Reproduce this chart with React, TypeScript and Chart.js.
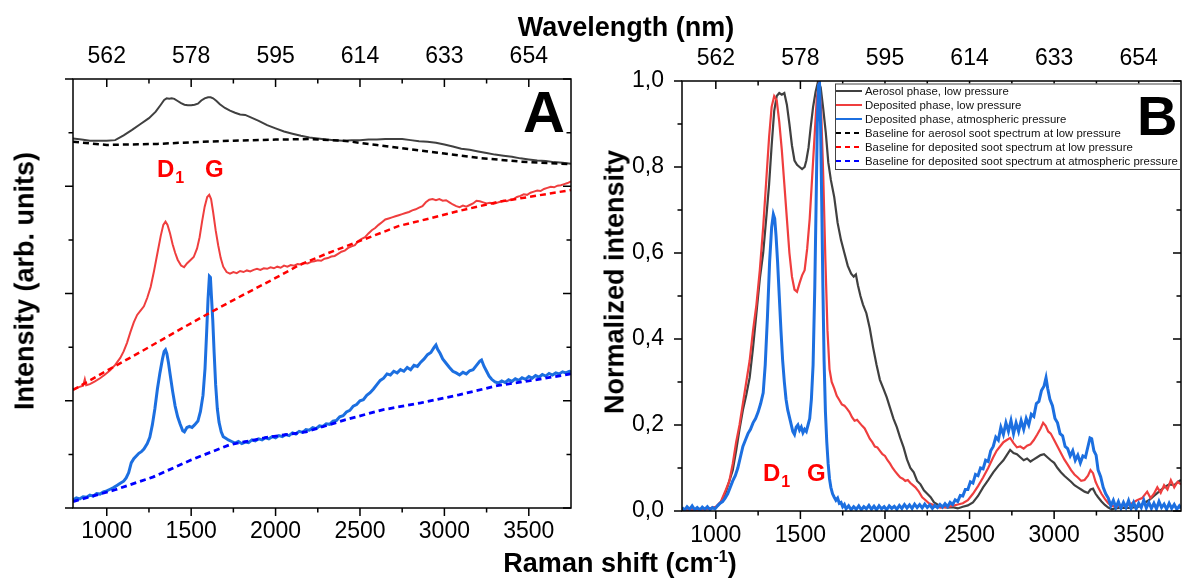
import React, { useEffect, useRef } from 'react';
import { Chart, registerables } from 'chart.js';

Chart.register(...registerables);

// ---------- axis data ----------
const X_MIN = 800;
const X_MAX = 3750;
const RAMAN_TICKS = [1000, 1500, 2000, 2500, 3000, 3500];
const RAMAN_MINOR_TICKS = [1250, 1750, 2250, 2750, 3250];
const WAVELENGTH_LABELS = ['562', '578', '595', '614', '633', '654'];
const A_Y_MAJOR = [0, 2, 4, 6, 8];
const A_Y_MINOR = [1, 3, 5, 7];
const B_Y_TICKS = [0, 0.2, 0.4, 0.6, 0.8, 1.0];
const B_Y_LABELS = ['0,0', '0,2', '0,4', '0,6', '0,8', '1,0'];
const B_Y_MINOR = [0.1, 0.3, 0.5, 0.7, 0.9];

const LEGEND_LABELS = [
  'Aerosol phase, low pressure',
  'Deposited phase, low pressure',
  'Deposited phase, atmospheric pressure',
  'Baseline for aerosol soot spectrum at low pressure',
  'Baseline for deposited soot spectrum at low pressure',
  'Baseline for deposited soot spectrum at atmospheric pressure',
];

// ---------- panel A (raw spectra, arbitrary units, offset) ----------
const A_AEROSOL_LOW: number[][] = [
  [800, 6.89], [850, 6.87], [900, 6.85], [950, 6.85], [1000, 6.85], [1050, 6.86], [1100, 6.95],
  [1150, 7.05], [1200, 7.16], [1250, 7.27], [1290, 7.39], [1320, 7.52], [1340, 7.61], [1355, 7.64],
  [1370, 7.63], [1385, 7.64], [1400, 7.63], [1420, 7.59], [1440, 7.55], [1460, 7.52], [1480, 7.51],
  [1500, 7.51], [1520, 7.52], [1540, 7.54], [1560, 7.6], [1580, 7.64], [1600, 7.66], [1615, 7.66],
  [1630, 7.64], [1650, 7.59], [1670, 7.53], [1700, 7.46], [1730, 7.41], [1760, 7.37], [1790, 7.34],
  [1820, 7.33], [1850, 7.29], [1900, 7.22], [1950, 7.14], [2000, 7.08], [2050, 7.02], [2100, 6.98],
  [2150, 6.94], [2200, 6.91], [2250, 6.89], [2300, 6.87], [2350, 6.86], [2400, 6.85], [2450, 6.86],
  [2500, 6.86], [2550, 6.87], [2600, 6.87], [2650, 6.88], [2700, 6.88], [2750, 6.88], [2800, 6.86],
  [2850, 6.84], [2900, 6.83], [2950, 6.81], [3000, 6.78], [3050, 6.74], [3100, 6.7], [3150, 6.68],
  [3200, 6.65], [3250, 6.62], [3300, 6.59], [3350, 6.57], [3400, 6.55], [3450, 6.52], [3500, 6.5],
  [3550, 6.48], [3600, 6.47], [3650, 6.45], [3700, 6.44], [3750, 6.42],
];
const A_AEROSOL_LOW_BASE: number[][] = [
  [800, 6.83], [1000, 6.77], [1300, 6.79], [1500, 6.82], [1750, 6.85], [2000, 6.87], [2200, 6.88],
  [2400, 6.85], [2600, 6.77], [2800, 6.69], [3000, 6.61], [3200, 6.53], [3450, 6.46], [3750, 6.41],
];
const A_DEPOSITED_LOW: number[][] = [
  [800, 2.21], [830, 2.25], [860, 2.28], [870, 2.4], [878, 2.29], [900, 2.31], [930, 2.36],
  [960, 2.42], [990, 2.49], [1020, 2.57], [1050, 2.67], [1080, 2.8], [1100, 2.92], [1120, 3.08],
  [1140, 3.28], [1160, 3.46], [1180, 3.6], [1200, 3.68], [1220, 3.76], [1240, 3.92], [1260, 4.12],
  [1280, 4.42], [1300, 4.75], [1320, 5.08], [1335, 5.28], [1348, 5.34], [1360, 5.28], [1375, 5.12],
  [1390, 4.92], [1405, 4.76], [1420, 4.63], [1440, 4.52], [1458, 4.49], [1475, 4.56], [1495, 4.62],
  [1515, 4.68], [1535, 4.84], [1550, 5.05], [1565, 5.35], [1580, 5.62], [1595, 5.8], [1607, 5.84],
  [1618, 5.76], [1630, 5.52], [1645, 5.18], [1660, 4.9], [1675, 4.66], [1690, 4.5], [1710, 4.4],
  [1730, 4.37], [1750, 4.4], [1770, 4.38], [1790, 4.42], [1810, 4.4], [1830, 4.43], [1850, 4.41],
  [1870, 4.44], [1890, 4.46], [1910, 4.44], [1930, 4.47], [1950, 4.46], [1970, 4.49], [1990, 4.47],
  [2010, 4.5], [2030, 4.48], [2050, 4.52], [2070, 4.5], [2090, 4.53], [2110, 4.52], [2130, 4.55],
  [2150, 4.54], [2170, 4.57], [2190, 4.56], [2210, 4.59], [2230, 4.6], [2250, 4.62], [2270, 4.61],
  [2290, 4.65], [2310, 4.66], [2330, 4.69], [2350, 4.7], [2370, 4.74], [2390, 4.78], [2410, 4.8],
  [2430, 4.85], [2450, 4.88], [2470, 4.9], [2490, 4.98], [2510, 5.02], [2530, 5.05], [2550, 5.12],
  [2570, 5.18], [2590, 5.22], [2610, 5.28], [2630, 5.33], [2650, 5.38], [2670, 5.4], [2690, 5.42],
  [2710, 5.44], [2730, 5.46], [2750, 5.48], [2770, 5.5], [2790, 5.52], [2810, 5.55], [2830, 5.57],
  [2850, 5.6], [2870, 5.63], [2890, 5.7], [2910, 5.75], [2930, 5.76], [2950, 5.74], [2970, 5.76],
  [2990, 5.73], [3010, 5.74], [3030, 5.7], [3050, 5.66], [3070, 5.63], [3090, 5.61], [3110, 5.64],
  [3130, 5.62], [3150, 5.65], [3170, 5.68], [3190, 5.73], [3210, 5.72], [3230, 5.7], [3250, 5.68],
  [3270, 5.69], [3290, 5.67], [3310, 5.69], [3330, 5.71], [3350, 5.73], [3370, 5.72], [3390, 5.75],
  [3410, 5.76], [3430, 5.8], [3450, 5.82], [3470, 5.85], [3490, 5.84], [3510, 5.88], [3530, 5.9],
  [3550, 5.92], [3570, 5.91], [3590, 5.95], [3610, 5.97], [3630, 5.99], [3650, 5.98], [3670, 6.01],
  [3690, 6.02], [3710, 6.04], [3730, 6.06], [3750, 6.09],
];
const A_DEPOSITED_LOW_BASE: number[][] = [
  [800, 2.2], [1000, 2.56], [1200, 2.91], [1400, 3.27], [1610, 3.64], [1800, 3.96], [2000, 4.29],
  [2140, 4.53], [2300, 4.74], [2500, 4.98], [2731, 5.26], [2900, 5.39], [3100, 5.55], [3322, 5.71],
  [3500, 5.8], [3750, 5.93],
];
const A_DEPOSITED_ATM: number[][] = [
  [800, 0.15], [820, 0.19], [840, 0.17], [860, 0.21], [880, 0.2], [900, 0.24], [920, 0.22],
  [940, 0.27], [960, 0.26], [980, 0.3], [1000, 0.32], [1020, 0.35], [1040, 0.38], [1060, 0.42],
  [1080, 0.46], [1100, 0.5], [1115, 0.56], [1130, 0.66], [1145, 0.84], [1160, 0.92], [1175, 0.97],
  [1190, 1.02], [1205, 1.05], [1220, 1.1], [1240, 1.2], [1255, 1.32], [1270, 1.55], [1285, 1.85],
  [1300, 2.22], [1315, 2.52], [1330, 2.78], [1340, 2.92], [1348, 2.95], [1356, 2.88], [1365, 2.72],
  [1375, 2.5], [1390, 2.18], [1405, 1.9], [1420, 1.7], [1435, 1.56], [1450, 1.44], [1460, 1.42],
  [1475, 1.5], [1490, 1.52], [1505, 1.5], [1520, 1.55], [1540, 1.62], [1555, 1.8], [1570, 2.1],
  [1582, 2.6], [1592, 3.3], [1600, 3.9], [1608, 4.32], [1614, 4.3], [1620, 3.95], [1628, 3.5],
  [1636, 2.9], [1645, 2.3], [1655, 1.85], [1665, 1.6], [1678, 1.42], [1690, 1.33], [1705, 1.3],
  [1720, 1.27], [1740, 1.24], [1760, 1.21], [1780, 1.24], [1800, 1.2], [1820, 1.23], [1840, 1.22],
  [1860, 1.27], [1880, 1.25], [1900, 1.29], [1920, 1.27], [1940, 1.31], [1960, 1.29], [1980, 1.33],
  [2000, 1.31], [2020, 1.35], [2040, 1.33], [2060, 1.37], [2080, 1.35], [2100, 1.4], [2120, 1.38],
  [2140, 1.43], [2160, 1.41], [2180, 1.46], [2200, 1.45], [2220, 1.5], [2240, 1.48], [2260, 1.53],
  [2280, 1.52], [2300, 1.57], [2320, 1.56], [2340, 1.62], [2360, 1.63], [2380, 1.7], [2400, 1.72],
  [2420, 1.79], [2440, 1.82], [2460, 1.9], [2480, 1.93], [2500, 2.0], [2520, 2.02], [2540, 2.1],
  [2560, 2.15], [2580, 2.22], [2600, 2.3], [2620, 2.38], [2640, 2.42], [2660, 2.5], [2680, 2.48],
  [2700, 2.55], [2720, 2.52], [2740, 2.58], [2760, 2.55], [2780, 2.62], [2800, 2.58], [2820, 2.66],
  [2840, 2.64], [2860, 2.72], [2880, 2.78], [2900, 2.86], [2920, 2.9], [2940, 3.0], [2950, 3.04],
  [2960, 2.96], [2975, 2.88], [2990, 2.78], [3010, 2.7], [3030, 2.62], [3050, 2.55], [3070, 2.52],
  [3090, 2.48], [3110, 2.53], [3130, 2.5], [3150, 2.56], [3170, 2.58], [3190, 2.66], [3210, 2.74],
  [3220, 2.76], [3235, 2.64], [3250, 2.55], [3265, 2.46], [3280, 2.4], [3300, 2.35], [3320, 2.33],
  [3340, 2.37], [3360, 2.34], [3380, 2.39], [3400, 2.36], [3420, 2.41], [3440, 2.38], [3460, 2.43],
  [3480, 2.4], [3500, 2.45], [3520, 2.42], [3540, 2.47], [3560, 2.44], [3580, 2.49], [3600, 2.46],
  [3620, 2.51], [3640, 2.48], [3660, 2.52], [3680, 2.5], [3700, 2.54], [3720, 2.52], [3740, 2.55],
  [3750, 2.54],
];
const A_DEPOSITED_ATM_BASE: number[][] = [
  [800, 0.12], [1050, 0.34], [1276, 0.58], [1502, 0.9], [1729, 1.18], [1955, 1.32], [2181, 1.42],
  [2407, 1.64], [2633, 1.83], [2860, 1.96], [3086, 2.11], [3312, 2.28], [3538, 2.39], [3750, 2.5],
];

// ---------- panel B (normalized, baseline-subtracted) ----------
const B_AEROSOL_LOW: number[][] = [
  [800, 0.004], [850, 0.002], [900, 0.005], [950, 0.004], [1000, 0.008], [1030, 0.02], [1060, 0.045],
  [1080, 0.07], [1100, 0.095], [1120, 0.14], [1140, 0.19], [1160, 0.235], [1180, 0.27], [1200, 0.31],
  [1220, 0.38], [1240, 0.46], [1260, 0.54], [1280, 0.6], [1300, 0.69], [1315, 0.76], [1330, 0.85],
  [1345, 0.93], [1360, 0.965], [1375, 0.972], [1390, 0.968], [1405, 0.972], [1420, 0.945], [1435, 0.9],
  [1450, 0.85], [1465, 0.815], [1480, 0.805], [1495, 0.8], [1510, 0.795], [1525, 0.8], [1535, 0.815],
  [1548, 0.845], [1560, 0.89], [1575, 0.94], [1590, 0.975], [1605, 1.0], [1620, 0.985], [1635, 0.935],
  [1650, 0.88], [1665, 0.81], [1680, 0.77], [1700, 0.73], [1720, 0.67], [1740, 0.63], [1760, 0.6],
  [1780, 0.57], [1800, 0.552], [1815, 0.545], [1828, 0.55], [1840, 0.525], [1855, 0.5], [1870, 0.48],
  [1890, 0.46], [1910, 0.425], [1930, 0.38], [1950, 0.34], [1970, 0.305], [1990, 0.285], [2010, 0.265],
  [2030, 0.24], [2050, 0.215], [2070, 0.195], [2090, 0.17], [2110, 0.148], [2130, 0.12], [2150, 0.1],
  [2170, 0.09], [2190, 0.07], [2210, 0.062], [2230, 0.048], [2250, 0.04], [2270, 0.032], [2290, 0.02],
  [2310, 0.015], [2340, 0.01], [2370, 0.008], [2400, 0.009], [2430, 0.006], [2460, 0.01], [2490, 0.013],
  [2520, 0.02], [2550, 0.035], [2580, 0.055], [2610, 0.072], [2640, 0.09], [2670, 0.105], [2700, 0.118],
  [2720, 0.13], [2740, 0.142], [2760, 0.135], [2780, 0.132], [2800, 0.125], [2820, 0.118], [2840, 0.122],
  [2860, 0.115], [2880, 0.12], [2900, 0.125], [2920, 0.13], [2940, 0.132], [2960, 0.125], [2980, 0.118],
  [3000, 0.112], [3020, 0.1], [3040, 0.09], [3060, 0.082], [3080, 0.075], [3100, 0.068], [3120, 0.06],
  [3140, 0.055], [3160, 0.05], [3180, 0.045], [3200, 0.042], [3215, 0.05], [3230, 0.052], [3245, 0.04],
  [3260, 0.032], [3280, 0.022], [3300, 0.014], [3320, 0.008], [3340, 0.004], [3360, 0.006], [3400, 0.008],
  [3450, 0.007], [3500, 0.01], [3530, 0.018], [3560, 0.025], [3590, 0.035], [3620, 0.045], [3650, 0.055],
  [3680, 0.062], [3710, 0.06], [3740, 0.07], [3750, 0.072],
];
const B_DEPOSITED_LOW: number[][] = [
  [800, 0.003], [850, 0.004], [900, 0.002], [950, 0.005], [1000, 0.01], [1030, 0.022], [1060, 0.05],
  [1080, 0.07], [1100, 0.11], [1120, 0.16], [1140, 0.2], [1160, 0.25], [1180, 0.3], [1200, 0.35],
  [1220, 0.42], [1240, 0.48], [1260, 0.56], [1280, 0.66], [1300, 0.78], [1315, 0.87], [1330, 0.94],
  [1345, 0.965], [1360, 0.955], [1375, 0.905], [1390, 0.84], [1405, 0.76], [1420, 0.68], [1435, 0.6],
  [1450, 0.545], [1465, 0.515], [1480, 0.51], [1495, 0.53], [1510, 0.548], [1525, 0.56], [1540, 0.61],
  [1555, 0.68], [1570, 0.78], [1585, 0.88], [1597, 0.96], [1610, 0.995], [1622, 0.94], [1635, 0.78],
  [1648, 0.58], [1660, 0.42], [1672, 0.33], [1685, 0.3], [1700, 0.285], [1715, 0.268], [1730, 0.258],
  [1745, 0.248], [1760, 0.245], [1775, 0.238], [1790, 0.23], [1805, 0.218], [1820, 0.21], [1835, 0.212],
  [1850, 0.205], [1865, 0.198], [1880, 0.192], [1895, 0.18], [1910, 0.168], [1925, 0.16], [1940, 0.15],
  [1955, 0.148], [1970, 0.14], [1985, 0.132], [2000, 0.128], [2015, 0.118], [2030, 0.11], [2045, 0.1],
  [2060, 0.092], [2075, 0.085], [2090, 0.078], [2105, 0.075], [2120, 0.07], [2135, 0.072], [2150, 0.065],
  [2165, 0.06], [2180, 0.055], [2200, 0.045], [2220, 0.032], [2240, 0.025], [2260, 0.018], [2280, 0.015],
  [2300, 0.01], [2330, 0.008], [2360, 0.009], [2400, 0.012], [2430, 0.015], [2460, 0.018], [2490, 0.025],
  [2520, 0.04], [2550, 0.058], [2580, 0.078], [2610, 0.1], [2640, 0.125], [2660, 0.14], [2680, 0.15],
  [2700, 0.16], [2720, 0.165], [2740, 0.17], [2760, 0.158], [2780, 0.148], [2800, 0.15], [2820, 0.145],
  [2840, 0.152], [2860, 0.155], [2880, 0.165], [2900, 0.178], [2920, 0.192], [2935, 0.205], [2950, 0.198],
  [2965, 0.185], [2980, 0.18], [3000, 0.165], [3020, 0.15], [3040, 0.135], [3060, 0.12], [3080, 0.108],
  [3100, 0.095], [3120, 0.085], [3140, 0.078], [3160, 0.07], [3180, 0.072], [3200, 0.082], [3215, 0.095],
  [3230, 0.088], [3245, 0.068], [3260, 0.055], [3280, 0.04], [3300, 0.028], [3320, 0.018], [3340, 0.012],
  [3370, 0.01], [3400, 0.014], [3430, 0.012], [3460, 0.018], [3490, 0.025], [3520, 0.03], [3550, 0.045],
  [3570, 0.03], [3590, 0.04], [3610, 0.055], [3630, 0.042], [3650, 0.06], [3670, 0.05], [3690, 0.072],
  [3710, 0.055], [3730, 0.068], [3750, 0.062],
];
const B_DEPOSITED_ATM: number[][] = [
  [800, 0.008], [815, 0.002], [830, 0.01], [845, 0.004], [860, 0.012], [875, 0.003], [890, 0.008],
  [905, 0.002], [920, 0.009], [935, 0.004], [950, 0.01], [965, 0.003], [980, 0.008], [995, 0.005],
  [1010, 0.012], [1025, 0.018], [1040, 0.022], [1055, 0.03], [1070, 0.04], [1085, 0.055], [1100, 0.07],
  [1115, 0.082], [1130, 0.1], [1145, 0.125], [1160, 0.15], [1175, 0.165], [1190, 0.18], [1205, 0.19],
  [1220, 0.205], [1235, 0.215], [1250, 0.23], [1265, 0.25], [1280, 0.275], [1292, 0.34], [1305, 0.45],
  [1318, 0.58], [1330, 0.66], [1340, 0.69], [1348, 0.68], [1356, 0.64], [1365, 0.58], [1375, 0.5],
  [1385, 0.42], [1395, 0.35], [1405, 0.3], [1415, 0.26], [1425, 0.235], [1440, 0.21], [1455, 0.185],
  [1465, 0.178], [1475, 0.195], [1485, 0.2], [1495, 0.188], [1505, 0.195], [1515, 0.182], [1525, 0.19],
  [1535, 0.185], [1545, 0.2], [1555, 0.215], [1565, 0.26], [1575, 0.34], [1585, 0.52], [1593, 0.72],
  [1600, 0.9], [1607, 0.99], [1613, 0.995], [1619, 0.9], [1626, 0.72], [1633, 0.52], [1640, 0.35],
  [1648, 0.23], [1656, 0.16], [1664, 0.11], [1672, 0.075], [1680, 0.055], [1690, 0.04], [1700, 0.032],
  [1710, 0.025], [1720, 0.03], [1730, 0.018], [1740, 0.02], [1750, 0.01], [1760, 0.015], [1770, 0.005],
  [1785, 0.012], [1800, 0.003], [1815, 0.01], [1830, 0.004], [1845, 0.012], [1860, 0.003], [1875, 0.01],
  [1890, 0.005], [1905, 0.013], [1920, 0.004], [1935, 0.011], [1950, 0.003], [1965, 0.012], [1980, 0.005],
  [1995, 0.01], [2010, 0.003], [2025, 0.012], [2040, 0.006], [2055, 0.011], [2070, 0.004], [2085, 0.013],
  [2100, 0.006], [2115, 0.015], [2130, 0.007], [2145, 0.014], [2160, 0.006], [2175, 0.016], [2190, 0.008],
  [2205, 0.015], [2220, 0.007], [2235, 0.016], [2250, 0.008], [2265, 0.014], [2280, 0.006], [2295, 0.013],
  [2310, 0.008], [2325, 0.015], [2340, 0.009], [2355, 0.017], [2370, 0.01], [2385, 0.02], [2400, 0.015],
  [2415, 0.026], [2430, 0.022], [2445, 0.036], [2460, 0.035], [2475, 0.05], [2490, 0.05], [2505, 0.068],
  [2520, 0.065], [2535, 0.085], [2550, 0.082], [2565, 0.1], [2580, 0.098], [2595, 0.118], [2610, 0.115],
  [2625, 0.14], [2640, 0.15], [2655, 0.172], [2670, 0.165], [2685, 0.195], [2700, 0.178], [2715, 0.205],
  [2730, 0.185], [2745, 0.21], [2760, 0.18], [2775, 0.205], [2790, 0.185], [2805, 0.21], [2820, 0.19],
  [2835, 0.215], [2850, 0.2], [2865, 0.225], [2880, 0.22], [2895, 0.25], [2910, 0.255], [2925, 0.28],
  [2940, 0.29], [2952, 0.31], [2962, 0.285], [2975, 0.26], [2990, 0.245], [3005, 0.215], [3020, 0.205],
  [3035, 0.18], [3050, 0.175], [3065, 0.15], [3080, 0.145], [3095, 0.128], [3110, 0.14], [3125, 0.118],
  [3140, 0.13], [3155, 0.112], [3170, 0.128], [3185, 0.125], [3200, 0.15], [3212, 0.17], [3222, 0.168],
  [3235, 0.14], [3248, 0.13], [3260, 0.095], [3275, 0.08], [3290, 0.055], [3305, 0.04], [3320, 0.03],
  [3335, 0.012], [3350, 0.025], [3365, 0.008], [3380, 0.022], [3395, 0.006], [3410, 0.02], [3425, 0.008],
  [3440, 0.024], [3455, 0.006], [3470, 0.02], [3485, 0.005], [3500, 0.018], [3515, 0.008], [3530, 0.025],
  [3545, 0.007], [3560, 0.02], [3575, 0.006], [3590, 0.018], [3605, 0.005], [3620, 0.022], [3635, 0.008],
  [3650, 0.016], [3665, 0.004], [3680, 0.018], [3695, 0.006], [3710, 0.015], [3725, 0.004], [3740, 0.012],
  [3750, 0.006],
];

// ---------- styles ----------
const FONT = "'Liberation Sans', Arial, Helvetica, sans-serif";
const C_BLACK = '#404040';
const C_RED = '#ef3e3e';
const C_BLUE = '#1c6fe0';
const C_BLACK_DASH = '#000000';
const C_RED_DASH = '#ff0000';
const C_BLUE_DASH = '#0000ff';
const LEGEND_STYLES = [
  { color: C_BLACK, dash: [] as number[] },
  { color: C_RED, dash: [] as number[] },
  { color: C_BLUE, dash: [] as number[] },
  { color: C_BLACK_DASH, dash: [5, 4] },
  { color: C_RED_DASH, dash: [5, 4] },
  { color: C_BLUE_DASH, dash: [5, 4] },
];

const pts = (arr: number[][]) => arr.map(([x, y]) => ({ x, y }));

function line(data: number[][], color: string, width: number, order: number, dash: number[] = []) {
  return {
    data: pts(data),
    borderColor: color,
    backgroundColor: color,
    borderWidth: width,
    borderDash: dash,
    pointRadius: 0,
    tension: 0,
    fill: false,
    order,
  };
}

function drawBandLabels(ctx: CanvasRenderingContext2D, xD: number, xG: number, base: number) {
  ctx.save();
  ctx.fillStyle = '#ff0000';
  ctx.textAlign = 'left';
  ctx.textBaseline = 'alphabetic';
  ctx.font = `bold 24px ${FONT}`;
  ctx.fillText('D', xD, base);
  const w = ctx.measureText('D').width;
  ctx.font = `bold 16px ${FONT}`;
  ctx.fillText('1', xD + w + 1, base + 6);
  ctx.font = `bold 24px ${FONT}`;
  ctx.fillText('G', xG, base);
  ctx.restore();
}

function framePlugin(id: string, yMajor: number[], yMinor: number[], extra: (ctx: CanvasRenderingContext2D, chart: any) => void) {
  return {
    id,
    afterDatasetsDraw(chart: any) {
      const { ctx, chartArea, scales } = chart;
      const { left, right, top, bottom } = chartArea;
      const xs = scales.x;
      const ys = scales.y;
      const MAJ = 8;
      const MIN = 4.5;
      ctx.save();
      ctx.strokeStyle = '#000';
      ctx.lineWidth = 1.5;
      ctx.setLineDash([]);
      ctx.beginPath();
      const xt = (v: number, len: number) => {
        const p = xs.getPixelForValue(v);
        ctx.moveTo(p, bottom);
        ctx.lineTo(p, bottom + len);
        ctx.moveTo(p, top);
        ctx.lineTo(p, top + len);
      };
      const yt = (v: number, len: number) => {
        const p = ys.getPixelForValue(v);
        ctx.moveTo(left - len, p);
        ctx.lineTo(left, p);
        ctx.moveTo(right, p);
        ctx.lineTo(right - len, p);
      };
      RAMAN_TICKS.forEach((v) => xt(v, MAJ));
      RAMAN_MINOR_TICKS.forEach((v) => xt(v, MIN));
      yMajor.forEach((v) => yt(v, MAJ));
      yMinor.forEach((v) => yt(v, MIN));
      ctx.stroke();
      ctx.strokeRect(left, top, right - left, bottom - top);
      ctx.restore();
      extra(ctx, chart);
    },
  };
}

function xScales(topHeight: number, bottomHeight: number, topPad: number, bottomPad: number) {
  const tickFont = { family: FONT, size: 23 };
  const setTicks = (s: any) => {
    s.ticks = RAMAN_TICKS.map((v) => ({ value: v }));
  };
  return {
    x: {
      type: 'linear',
      position: 'bottom',
      min: X_MIN,
      max: X_MAX,
      afterBuildTicks: setTicks,
      afterFit: (s: any) => {
        s.height = bottomHeight;
      },
      grid: { display: false, drawTicks: false },
      border: { display: false },
      ticks: {
        font: tickFont,
        color: '#000',
        padding: bottomPad,
        maxRotation: 0,
        autoSkip: false,
        callback: (v: any) => String(v),
      },
    },
    x2: {
      type: 'linear',
      position: 'top',
      min: X_MIN,
      max: X_MAX,
      afterBuildTicks: setTicks,
      afterFit: (s: any) => {
        s.height = topHeight;
      },
      grid: { display: false, drawTicks: false },
      border: { display: false },
      ticks: {
        font: tickFont,
        color: '#000',
        padding: topPad,
        maxRotation: 0,
        autoSkip: false,
        callback: (_v: any, i: number) => WAVELENGTH_LABELS[i],
      },
    },
  };
}

export default function App() {
  const refA = useRef<HTMLCanvasElement>(null);
  const refB = useRef<HTMLCanvasElement>(null);

  useEffect(() => {
    const chartA = new Chart(refA.current as HTMLCanvasElement, {
      type: 'line',
      data: {
        datasets: [
          line(A_AEROSOL_LOW_BASE, C_BLACK_DASH, 2.5, 0, [6, 4]),
          line(A_DEPOSITED_LOW_BASE, C_RED_DASH, 2.5, 0, [6, 4]),
          line(A_DEPOSITED_ATM_BASE, C_BLUE_DASH, 2.8, 0, [6, 4]),
          line(A_AEROSOL_LOW, C_BLACK, 2, 1),
          line(A_DEPOSITED_LOW, C_RED, 2, 1),
          line(A_DEPOSITED_ATM, C_BLUE, 3, 1),
        ] as any,
      },
      options: {
        responsive: false,
        animation: false,
        events: [],
        layout: { padding: { left: 0, right: 29, top: 0, bottom: 0 } },
        plugins: { legend: { display: false }, tooltip: { enabled: false } },
        scales: {
          ...xScales(79, 71, 9, 10),
          y: {
            type: 'linear',
            position: 'left',
            min: 0,
            max: 8,
            afterFit: (s: any) => {
              s.width = 73;
            },
            grid: { display: false, drawTicks: false },
            border: { display: false },
            ticks: { display: false },
          },
        } as any,
      },
      plugins: [
        framePlugin('frameA', A_Y_MAJOR, A_Y_MINOR, (ctx) => {
          ctx.save();
          ctx.fillStyle = '#000';
          ctx.font = `bold 58px ${FONT}`;
          ctx.textAlign = 'left';
          ctx.textBaseline = 'alphabetic';
          ctx.fillText('A', 523, 132);
          ctx.restore();
          drawBandLabels(ctx, 157, 205, 177);
        }),
      ],
    });

    const chartB = new Chart(refB.current as HTMLCanvasElement, {
      type: 'line',
      data: {
        datasets: [
          line(B_AEROSOL_LOW, C_BLACK, 2.2, 2),
          line(B_DEPOSITED_LOW, C_RED, 2.2, 1),
          line(B_DEPOSITED_ATM, C_BLUE, 3, 0),
        ] as any,
      },
      options: {
        responsive: false,
        animation: false,
        events: [],
        layout: { padding: { left: 0, right: 1, top: 0, bottom: 0 } },
        plugins: { legend: { display: false }, tooltip: { enabled: false } },
        scales: {
          ...xScales(81, 68, 9, 11),
          y: {
            type: 'linear',
            position: 'left',
            min: 0,
            max: 1,
            afterBuildTicks: (s: any) => {
              s.ticks = B_Y_TICKS.map((v) => ({ value: v }));
            },
            afterFit: (s: any) => {
              s.width = 92;
            },
            grid: { display: false, drawTicks: false },
            border: { display: false },
            ticks: {
              font: { family: FONT, size: 23 },
              color: '#000',
              padding: 18,
              callback: (_v: any, i: number) => B_Y_LABELS[i],
            },
          },
        } as any,
      },
      plugins: [
        framePlugin('frameB', B_Y_TICKS, B_Y_MINOR, (ctx, chart) => {
          const right = chart.chartArea.right;
          // legend
          const bx = 245;
          const by = 83.5;
          const bw = right - 1 - bx;
          const bh = 85.5;
          ctx.save();
          ctx.fillStyle = '#ffffff';
          ctx.fillRect(bx, by, bw, bh);
          ctx.strokeStyle = '#444';
          ctx.lineWidth = 1;
          ctx.setLineDash([]);
          ctx.strokeRect(bx + 0.5, by + 0.5, bw, bh);
          ctx.font = `11.4px ${FONT}`;
          ctx.textAlign = 'left';
          ctx.textBaseline = 'middle';
          LEGEND_LABELS.forEach((label, i) => {
            const y = by + 7.5 + i * 14;
            const st = LEGEND_STYLES[i];
            ctx.strokeStyle = st.color;
            ctx.lineWidth = 2;
            ctx.setLineDash(st.dash);
            ctx.beginPath();
            ctx.moveTo(bx + 1, y);
            ctx.lineTo(bx + 27, y);
            ctx.stroke();
            ctx.fillStyle = '#111';
            ctx.fillText(label, bx + 30, y + 0.5);
          });
          ctx.setLineDash([]);
          ctx.fillStyle = '#000';
          ctx.font = `bold 56px ${FONT}`;
          ctx.textBaseline = 'alphabetic';
          ctx.fillText('B', 547, 135);
          ctx.restore();
          drawBandLabels(ctx, 173, 217, 481);
        }),
      ],
    });

    return () => {
      chartA.destroy();
      chartB.destroy();
    };
  }, []);

  const titleStyle: React.CSSProperties = {
    position: 'absolute',
    fontFamily: FONT,
    fontWeight: 'bold',
    fontSize: 27,
    lineHeight: '27px',
    whiteSpace: 'nowrap',
    color: '#000',
  };

  return (
    <div
      style={{
        position: 'fixed',
        left: 0,
        top: 0,
        width: 1182,
        height: 579,
        background: '#ffffff',
        overflow: 'hidden',
      }}
    >
      <canvas
        ref={refA}
        width={600}
        height={579}
        style={{ position: 'absolute', left: 0, top: 0, width: 600, height: 579 }}
      />
      <canvas
        ref={refB}
        width={592}
        height={579}
        style={{ position: 'absolute', left: 590, top: 0, width: 592, height: 579 }}
      />
      <div style={{ ...titleStyle, left: 426, top: 14, width: 400, textAlign: 'center' }}>Wavelength (nm)</div>
      <div style={{ ...titleStyle, left: 420, top: 550, width: 400, textAlign: 'center' }}>
        Raman shift (cm
        <sup style={{ fontSize: 16, lineHeight: 0, verticalAlign: 'super' }}>-1</sup>)
      </div>
      <div
        style={{
          ...titleStyle,
          left: 25,
          top: 281,
          transform: 'translate(-50%, -50%) rotate(-90deg)',
        }}
      >
        Intensity (arb. units)
      </div>
      <div
        style={{
          ...titleStyle,
          left: 615,
          top: 282,
          transform: 'translate(-50%, -50%) rotate(-90deg)',
        }}
      >
        Normalized intensity
      </div>
    </div>
  );
}
